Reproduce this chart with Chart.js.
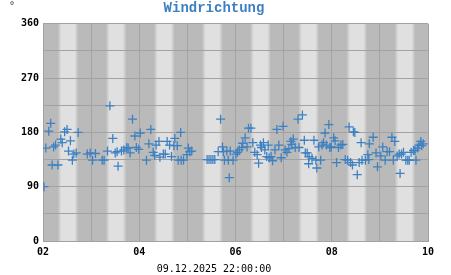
<!DOCTYPE html>
<html>
<head>
<meta charset="utf-8">
<title>Windrichtung</title>
<script src="https://cdn.jsdelivr.net/npm/chart.js@4"></script>
<style>
  html, body { margin: 0; padding: 0; background: #fff; }
  #wrap { width: 451px; height: 275px; }
</style>
</head>
<body>
<div id="wrap"><canvas id="windChart" width="451" height="275"></canvas></div>
<script>
// time as day of month (Dez 2025), direction in degrees
const timeDays = [
  2.02, 2.06, 2.12, 2.16, 2.19, 2.22, 2.26, 2.31, 2.37, 2.40, 2.45, 2.50, 2.53, 2.57, 2.61, 2.64, 2.69, 2.73, 2.92, 2.98,
  3.03, 3.09, 3.23, 3.27, 3.34, 3.39, 3.45, 3.50, 3.54, 3.56, 3.63, 3.68, 3.74, 3.77, 3.81, 3.86, 3.91, 3.94, 3.99,
  4.02, 4.15, 4.20, 4.24, 4.29, 4.32, 4.35, 4.41, 4.43, 4.50, 4.54, 4.58, 4.63, 4.67, 4.72, 4.74, 4.79, 4.81, 4.86, 4.87, 4.92, 4.99,
  5.02, 5.05, 5.09, 5.41, 5.45, 5.49, 5.53, 5.57, 5.64, 5.69, 5.73, 5.75, 5.77, 5.82, 5.85, 5.87, 5.89, 5.95,
  6.01, 6.04, 6.08, 6.13, 6.15, 6.20, 6.24, 6.27, 6.32, 6.36, 6.40, 6.45, 6.48, 6.52, 6.54, 6.58, 6.61, 6.65, 6.68, 6.70, 6.74, 6.77, 6.82, 6.86, 6.90, 6.95, 6.99,
  7.03, 7.07, 7.11, 7.15, 7.17, 7.20, 7.24, 7.30, 7.32, 7.39, 7.43, 7.45, 7.49, 7.52, 7.53, 7.59, 7.63, 7.67, 7.69, 7.73, 7.77, 7.80, 7.83, 7.86, 7.89, 7.94, 7.96, 7.99,
  8.04, 8.07, 8.10, 8.14, 8.19, 8.23, 8.28, 8.33, 8.36, 8.39, 8.43, 8.45, 8.48, 8.53, 8.57, 8.61, 8.63, 8.70, 8.75, 8.77, 8.78, 8.86, 8.92, 8.95,
  9.02, 9.06, 9.11, 9.15, 9.20, 9.25, 9.28, 9.31, 9.36, 9.40, 9.42, 9.45, 9.49, 9.54, 9.58, 9.61, 9.65, 9.70, 9.73, 9.75, 9.78, 9.81, 9.85, 9.87, 9.90
];
const windDir = [
  90, 154, 182, 195, 126, 156, 159, 126, 169, 163, 181, 185, 149, 166, 134, 144, 146, 180, 144, 146,
  134, 145, 134, 134, 149, 224, 170, 146, 148, 124, 149, 151, 155, 154, 146, 202, 174, 155, 152,
  179, 134, 161, 185, 147, 142, 159, 165, 139, 144, 144, 165, 159, 140, 158, 170, 158, 134, 180, 134, 134, 143,
  154, 148, 149, 135, 135, 135, 135, 135, 148, 202, 156, 148, 134, 149, 134, 105, 149, 134,
  144, 147, 151, 155, 162, 171, 156, 187, 187, 163, 147, 143, 129, 159, 155, 163, 151, 140, 159, 138, 140, 133, 151, 185, 159, 138, 190,
  151, 147, 153, 165, 160, 169, 155, 202, 155, 209, 167, 146, 146, 128, 140, 137, 167, 134, 121, 156, 134, 159, 163, 179, 159, 193, 155, 156,
  171, 166, 130, 155, 159, 160, 135, 134, 189, 130, 126, 181, 180, 110, 130, 163, 134, 134, 143, 135, 161, 172, 146, 123,
  141, 156, 134, 148, 148, 172, 134, 165, 141, 144, 112, 144, 147, 134, 134, 134, 147, 150, 150, 134, 154, 159, 165, 158, 161
];
const xTickLabels = ['02', '04', '06', '08', '10'];
const yTickLabels = [0, 90, 180, 270, 360];
const dayLight = [0.34, 0.70]; // hell: Sonnenaufgang .. Sonnenuntergang (Tagesanteil)
const dateLabel = '09.12.2025 22:00:00';

const points = timeDays.map((t, i) => ({ x: t, y: windDir[i] }));

const monoFont = "'DejaVu Sans Mono', monospace";

// Tag/Nacht Streifen hinter dem Gitter
const dayNightBands = {
  id: 'dayNightBands',
  beforeDraw(chart) {
    const { ctx, chartArea: a, scales: { x } } = chart;
    ctx.save();
    ctx.fillStyle = '#bababa';
    ctx.fillRect(a.left, a.top, a.right - a.left, a.bottom - a.top);
    for (let d = Math.floor(x.min); d < x.max; d++) {
      const x1 = x.getPixelForValue(d + dayLight[0]);
      const x2 = x.getPixelForValue(d + dayLight[1]);
      const g = ctx.createLinearGradient(x1 - 1, 0, x2 + 1, 0);
      const edge = 3 / (x2 - x1 + 2);
      g.addColorStop(0, '#c4c4c4');
      g.addColorStop(edge, '#e0e0e0');
      g.addColorStop(1 - edge, '#e0e0e0');
      g.addColorStop(1, '#c4c4c4');
      ctx.fillStyle = g;
      ctx.fillRect(x1 - 1, a.top, x2 - x1 + 2, a.bottom - a.top);
    }
    ctx.restore();
  },
  afterDraw(chart) {
    const ctx = chart.ctx;
    ctx.save();
    ctx.fillStyle = '#333';
    ctx.font = "10px " + monoFont;
    ctx.textAlign = 'center';
    ctx.textBaseline = 'middle';
    ctx.fillText('°', 12, 6);
    ctx.restore();
  }
};

new Chart(document.getElementById('windChart'), {
  type: 'scatter',
  data: {
    datasets: [{
      label: 'Windrichtung',
      data: points,
      pointStyle: 'cross',
      pointRadius: 4.5,
      pointBorderWidth: 1.3,
      borderColor: '#3d81c2',
      backgroundColor: '#3d81c2'
    }]
  },
  options: {
    responsive: false,
    animation: false,
    devicePixelRatio: 1,
    layout: { padding: { left: 0, right: 23, top: 0, bottom: 0 } },
    plugins: {
      legend: { display: false },
      tooltip: { enabled: false },
      title: {
        display: true,
        text: 'Windrichtung',
        color: '#3d81c2',
        font: { family: "'Liberation Mono', monospace", size: 14, weight: 'bold' },
        padding: { top: 0, bottom: 7 }
      },
      subtitle: {
        display: true,
        position: 'bottom',
        text: dateLabel,
        color: '#000',
        font: { family: monoFont, size: 10 },
        padding: { top: 2, bottom: 0 }
      }
    },
    scales: {
      x: {
        type: 'linear',
        min: 2,
        max: 10,
        afterFit(scale) { scale.height = 20; },
        grid: { color: '#a2a2a2', drawTicks: false },
        border: { color: '#a2a2a2' },
        ticks: {
          stepSize: 1,
          autoSkip: false,
          maxRotation: 0,
          padding: 5,
          color: '#000',
          font: { family: monoFont, size: 10, weight: 'bold' },
          callback: (v) => (v % 2 === 0 ? xTickLabels[(v - 2) / 2] : '')
        }
      },
      y: {
        min: 0,
        max: 360,
        afterFit(scale) { scale.width = 43; },
        grid: { color: '#a2a2a2', drawTicks: false },
        border: { color: '#a2a2a2' },
        ticks: {
          stepSize: 45,
          autoSkip: false,
          padding: 4,
          color: '#000',
          font: { family: monoFont, size: 10, weight: 'bold' },
          callback: (v) => (v % 90 === 0 ? String(yTickLabels[v / 90]) : '')
        }
      }
    }
  },
  plugins: [dayNightBands]
});
</script>
</body>
</html>
